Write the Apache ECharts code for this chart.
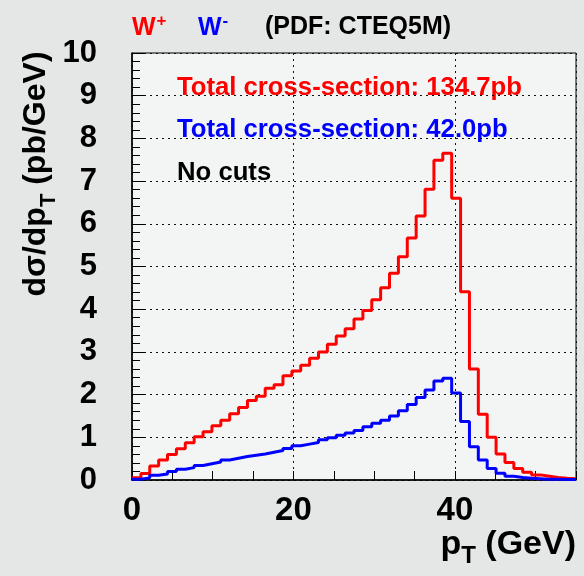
<!DOCTYPE html>
<html><head><meta charset="utf-8">
<script src="https://cdn.jsdelivr.net/npm/echarts@6/dist/echarts.min.js"></script>
<style>html,body{margin:0;padding:0;background:#e4e7e6}#c{width:584px;height:576px}</style>
</head><body><div id="c"></div><script>
// Histogram: 50 bins of 1.1 GeV from 0 to 55 GeV
const binWidth = 1.1;
const xMin = 0, xMax = 55;
const wPlus = [0.05,0.15,0.33,0.47,0.60,0.73,0.87,1.01,1.13,1.27,
               1.40,1.55,1.70,1.86,1.96,2.15,2.23,2.44,2.55,2.69,
               2.85,3.00,3.18,3.37,3.54,3.77,3.97,4.22,4.50,4.84,
               5.23,5.67,6.18,6.81,7.49,7.65,6.60,4.41,2.60,1.54,
               1.00,0.61,0.41,0.27,0.18,0.12,0.09,0.06,0.04,0.03];
const wMinus = [0.02,0.05,0.11,0.14,0.20,0.25,0.29,0.34,0.38,0.42,
                0.47,0.51,0.55,0.58,0.61,0.65,0.69,0.74,0.80,0.84,
                0.88,0.94,0.99,1.05,1.10,1.16,1.25,1.33,1.40,1.50,
                1.62,1.77,1.93,2.11,2.32,2.38,2.04,1.37,0.78,0.47,
                0.27,0.16,0.09,0.06,0.04,0.03,0.02,0.015,0.01,0.01];
const legendNames = ['W+', 'W-'];
const pdfLabel = '(PDF: CTEQ5M)';
const xsecPlus = 'Total cross-section: 134.7pb';
const xsecMinus = 'Total cross-section: 42.0pb';
const cutsLabel = 'No cuts';

function toSteps(vals) {
  const pts = vals.map((v, i) => [+(i * binWidth).toFixed(4), v]);
  pts.push([+(vals.length * binWidth).toFixed(4), vals[vals.length - 1]]);
  return pts;
}

const FONT = '"Liberation Sans", Arial, Helvetica, sans-serif';
const chart = echarts.init(document.getElementById('c'));
const dotted = { color: '#111', width: 1, type: [2, 4] };

function supText(main, sup, color, x) {
  return { type: 'text', x: x, y: 27, style: {
    text: '{m|' + main + '}{s|' + sup + '}', fill: color, verticalAlign: 'middle', font: 'bold 25px ' + FONT,
    rich: { m: { fontSize: 25, fontWeight: 'bold', fill: color, fontFamily: FONT, verticalAlign: 'bottom' },
            s: { fontSize: 17, fontWeight: 'bold', fill: color, fontFamily: FONT, verticalAlign: 'bottom', padding: [0, 0, 11, 1] } } } };
}

chart.setOption({
  backgroundColor: '#e4e7e6',
  animation: false,
  grid: { left: 132, right: 8, top: 53, bottom: 96, show: true,
          borderColor: '#000', borderWidth: 1, backgroundColor: '#f3f5f4' },
  xAxis: [{
    type: 'value', min: xMin, max: xMax, interval: 20,
    axisLine: { lineStyle: { color: '#000', width: 1.5 } },
    axisTick: { show: false },
    axisLabel: { fontSize: 33, fontWeight: 'bold', color: '#000', fontFamily: FONT,
                 margin: 14, showMaxLabel: false,
                 formatter: v => (v % 20 === 0 ? String(v) : '') },
    splitLine: { show: true, lineStyle: dotted }
  }, {
    type: 'value', min: xMin, max: xMax, interval: 5, position: 'bottom',
    axisLine: { show: false },
    axisTick: { show: true, inside: true, length: 9, lineStyle: { color: '#000' } },
    axisLabel: { show: false }, splitLine: { show: false }
  }],
  yAxis: {
    type: 'value', min: 0, max: 10, interval: 1,
    axisLine: { show: true, lineStyle: { color: '#000', width: 1.5 } },
    axisTick: { show: true, inside: true, length: 13, lineStyle: { color: '#000' } },
    minorTick: { show: true, splitNumber: 5, length: 8, lineStyle: { color: '#000' } },
    axisLabel: { fontSize: 31, fontWeight: 'bold', color: '#000', fontFamily: FONT, margin: 35 },
    splitLine: { show: true, lineStyle: dotted }
  },
  series: [
    { name: legendNames[0], type: 'line', step: 'end', data: toSteps(wPlus),
      showSymbol: false, lineStyle: { color: '#ff0000', width: 3 }, z: 3 },
    { name: legendNames[1], type: 'line', step: 'end', data: toSteps(wMinus),
      showSymbol: false, lineStyle: { color: '#0000ff', width: 3 }, z: 4 }
  ],
  graphic: [
    supText('W', '+', '#ff0000', 132),
    supText('W', '-', '#0000ff', 198),
    { type: 'text', x: 265, y: 27, style: { text: pdfLabel, fill: '#000',
        font: 'bold 25px ' + FONT, verticalAlign: 'middle' } },
    { type: 'text', x: 177, y: 88, style: { text: xsecPlus, fill: '#ff0000',
        font: 'bold 25.7px ' + FONT, verticalAlign: 'middle' } },
    { type: 'text', x: 177, y: 130, style: { text: xsecMinus, fill: '#0000ff',
        font: 'bold 25.7px ' + FONT, verticalAlign: 'middle' } },
    { type: 'text', x: 177, y: 173, style: { text: cutsLabel, fill: '#000',
        font: 'bold 25.7px ' + FONT, verticalAlign: 'middle' } },
    // y axis title
    { type: 'text', x: 40, y: 174, rotation: Math.PI / 2, style: {
        text: '{m|dσ/dp}{s|T}{m| (pb/GeV)}', align: 'center', verticalAlign: 'middle',
        font: 'bold 32px ' + FONT,
        rich: { m: { fontSize: 32, fontWeight: 'bold', fontFamily: FONT, fill: '#000', verticalAlign: 'bottom', padding: [0, 0, 7, 0] },
                s: { fontSize: 22, fontWeight: 'bold', fontFamily: FONT, fill: '#000', verticalAlign: 'bottom' } } } },
    // x axis title
    { type: 'text', x: 576, y: 548, style: {
        text: '{m|p}{s|T}{m| (GeV)}', align: 'right', verticalAlign: 'middle',
        font: 'bold 34px ' + FONT,
        rich: { m: { fontSize: 34, fontWeight: 'bold', fontFamily: FONT, fill: '#000', verticalAlign: 'bottom', padding: [0, 0, 7, 0] },
                s: { fontSize: 24, fontWeight: 'bold', fontFamily: FONT, fill: '#000', verticalAlign: 'bottom' } } } }
  ]
});
</script></body></html>
